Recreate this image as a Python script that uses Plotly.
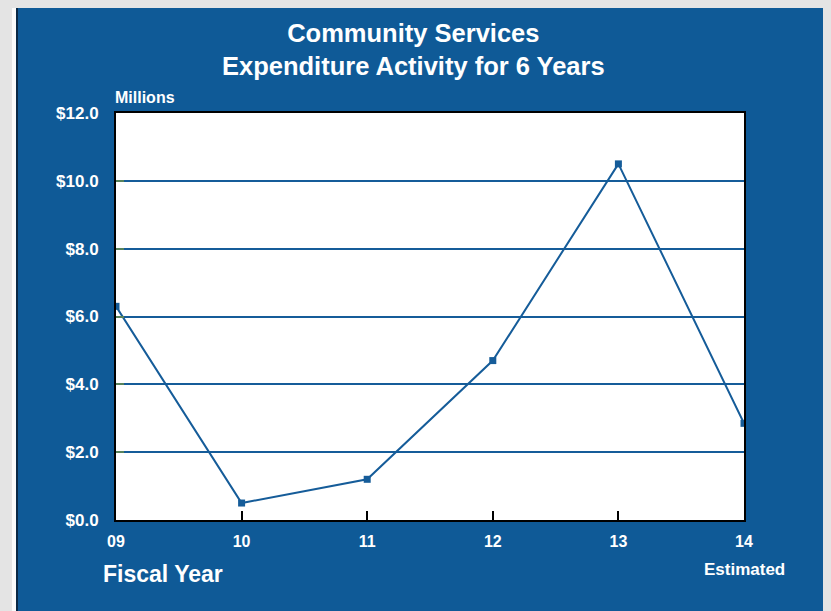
import plotly.graph_objects as go

years = ["09", "10", "11", "12", "13", "14"]
expenditure = [6.3, 0.5, 1.2, 4.7, 10.5, 2.85]
y_ticks = [0, 2, 4, 6, 8, 10, 12]
y_tick_labels = ["$0.0", "$2.0", "$4.0", "$6.0", "$8.0", "$10.0", "$12.0"]
title_lines = ["Community Services", "Expenditure Activity for 6 Years"]

BLUE = "#0F5A97"
LINE = "#155C99"
GRAY = "#E4E4E4"
FONT = "Liberation Sans, Arial, sans-serif"

OFF = 8  # page body margin
W, H = 831 - OFF, 611 - OFF
L, R, T, B = 116 - OFF, 87, 113 - OFF, 91
pw, ph = W - L - R, H - T - B


def px(x):
    return (x - OFF - L) / pw


def py(y):
    return (H - B - (y - OFF)) / ph


def f(size):
    return dict(family=FONT, size=size, color="white", weight="bold")


fig = go.Figure()
fig.add_trace(go.Scatter(
    x=years, y=expenditure, mode="lines+markers",
    line=dict(color=LINE, width=2),
    marker=dict(symbol="square", size=7, color=LINE),
    showlegend=False, hoverinfo="skip",
))

shapes = [
    dict(type="rect", xref="paper", yref="paper", layer="below",
         x0=px(12), x1=px(850), y0=py(640), y1=py(4),
         fillcolor="#FAFAFA", line=dict(width=0)),
    dict(type="rect", xref="paper", yref="paper", layer="below",
         x0=px(17), x1=px(850), y0=py(640), y1=py(5.5),
         fillcolor=BLUE, line=dict(color="#0A2844", width=2)),
    dict(type="rect", xref="paper", yref="paper", layer="below",
         x0=0, x1=1, y0=0, y1=1, fillcolor="white", line=dict(width=0)),
]

annotations = [
    dict(text="<br>".join(title_lines), xref="paper", yref="paper",
         x=px(413), y=py(49), xanchor="center", yanchor="middle",
         showarrow=False, font=f(25.5)),
    dict(text="Millions", xref="paper", yref="paper",
         x=px(113), y=py(97.5), xanchor="left", yanchor="middle",
         showarrow=False, font=f(16)),
    dict(text="Fiscal Year", xref="paper", yref="paper",
         x=px(101), y=py(574), xanchor="left", yanchor="middle",
         showarrow=False, font=f(23)),
    dict(text="Estimated", xref="paper", yref="paper",
         x=px(744), y=py(569), xanchor="center", yanchor="middle",
         showarrow=False, font=f(17)),
]

fig.update_layout(
    width=W, height=H,
    margin=dict(l=L, r=R, t=T, b=B, pad=0),
    paper_bgcolor=GRAY,
    plot_bgcolor="white",
    shapes=shapes,
    annotations=annotations,
    font=dict(family=FONT, color="white"),
    xaxis=dict(
        type="category", range=[0, len(years) - 1],
        showgrid=False, zeroline=False,
        showline=True, mirror=True, linecolor="black", linewidth=2,
        ticks="inside", ticklen=9, tickwidth=2, tickcolor="black",
        tickfont=f(16),
        ticklabelstandoff=6,
    ),
    yaxis=dict(
        range=[0, 12], tickvals=y_ticks, ticktext=y_tick_labels,
        showgrid=True, gridcolor=LINE, gridwidth=2,
        zeroline=False,
        showline=True, mirror=True, linecolor="black", linewidth=2,
        ticks="inside", ticklen=8, tickwidth=2, tickcolor="#58835C",
        tickfont=f(17),
        ticklabelstandoff=12,
    ),
)

fig.write_html("out.html",
               post_script="document.body.style.background='%s';" % GRAY)
